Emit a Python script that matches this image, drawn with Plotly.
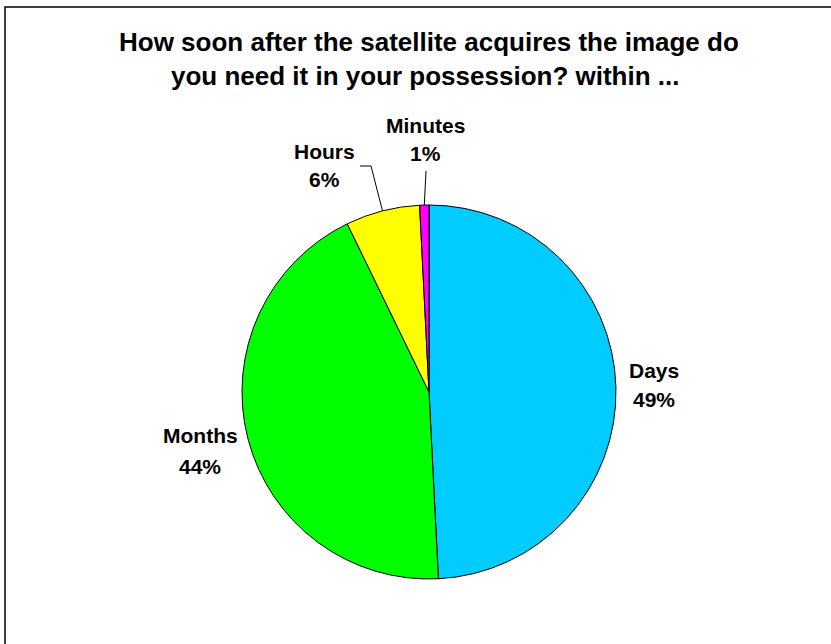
import math
import plotly.graph_objects as go

# ---- data ----
categories = ["Days", "Months", "Hours", "Minutes"]
values = [49.2, 43.6, 6.4, 0.8]
colors = ["#00CCFF", "#00FF00", "#FFFF00", "#FF00FF"]
title_lines = ["How soon after the satellite acquires the image do",
               "you need it in your possession? within ..."]

W, H = 831, 644
CX, CY, R = 429, 392, 187  # pie center / radius in pixels


def px(x):
    return x / W


def py(y):
    return 1 - y / H


FONT = "Liberation Sans, Arial, sans-serif"

fig = go.Figure(go.Pie(
    labels=categories,
    values=values,
    sort=False,
    direction="clockwise",
    rotation=0,
    marker=dict(colors=colors, line=dict(color="black", width=1)),
    textinfo="none",
    hoverinfo="label+percent",
    showlegend=False,
    domain=dict(x=[px(CX - R), px(CX + R)], y=[py(CY + R), py(CY - R)]),
))

total = sum(values)
pcts = [round(v / total * 100) for v in values]

# label placements (text centers, pixels): line1 y, line2 y
label_pos = {
    "Days": (654, 370, 400),
    "Months": (200, 436, 466),
    "Hours": (324, 151, 180),
    "Minutes": (425, 125, 154),
}

annotations = []
for cat, p in zip(categories, pcts):
    x, y1, y2 = label_pos[cat]
    for txt, yy in ((f"<b>{cat}</b>", y1), (f"<b>{p}%</b>", y2)):
        annotations.append(dict(
            x=px(x), y=py(yy), xref="paper", yref="paper",
            text=txt, showarrow=False, xanchor="center", yanchor="middle",
            font=dict(family=FONT, size=21, color="black"),
        ))

# title
for txt, x, yy in ((title_lines[0], 429, 42), (title_lines[1], 425, 76)):
    annotations.append(dict(
        x=px(x), y=py(yy), xref="paper", yref="paper",
        text=f"<b>{txt}</b>", showarrow=False, xanchor="center", yanchor="middle",
        font=dict(family=FONT, size=26, color="black"),
    ))

# leader lines from slice mid-angle on the arc to elbow points
cum = 0
mids = {}
for cat, v in zip(categories, values):
    mids[cat] = (cum + v / 2) / total * 2 * math.pi
    cum += v


def arc_point(cat):
    a = mids[cat]
    return CX + R * math.sin(a), CY - R * math.cos(a)


shapes = []
hx, hy = arc_point("Hours")
elbow_h = [(371, 166), (360, 166)]
pts = [(hx, hy)] + elbow_h
for (x0, y0), (x1, y1) in zip(pts[:-1], pts[1:]):
    shapes.append(dict(type="line", xref="paper", yref="paper",
                       x0=px(x0), y0=py(y0), x1=px(x1), y1=py(y1),
                       line=dict(color="black", width=1)))
mx, my = arc_point("Minutes")
shapes.append(dict(type="line", xref="paper", yref="paper",
                   x0=px(mx), y0=py(my), x1=px(426), y1=py(171),
                   line=dict(color="black", width=1)))

# chart frame
shapes.append(dict(type="rect", xref="paper", yref="paper",
                   x0=px(5), y0=-0.02, x1=1.02, y1=py(7),
                   line=dict(color="black", width=1.5), fillcolor="rgba(0,0,0,0)"))

fig.update_layout(
    width=W, height=H,
    margin=dict(l=0, r=0, t=0, b=0),
    paper_bgcolor="white", plot_bgcolor="white",
    annotations=annotations, shapes=shapes,
)

fig.write_html("out.html")
